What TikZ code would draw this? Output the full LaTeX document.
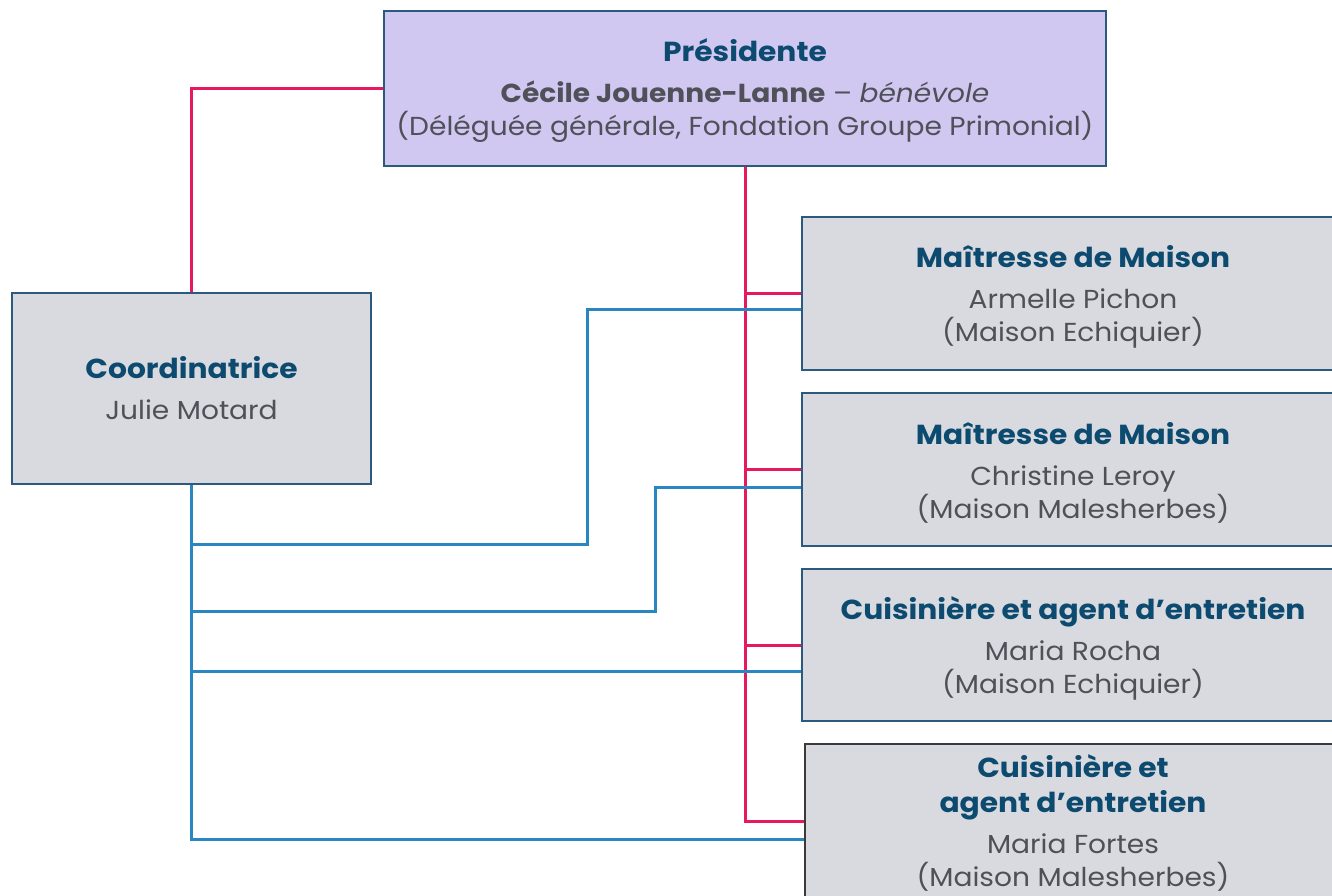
\documentclass[tikz,border=0pt]{standalone}
\usepackage{fontspec}
\setmainfont{Poppins}[FakeStretch=1.08]
\definecolor{lav}{HTML}{D0C8F1}
\definecolor{boxgrey}{HTML}{D9DADF}
\definecolor{edge}{HTML}{2B5A7E}
\definecolor{edgedark}{HTML}{3A3A3A}
\definecolor{ttl}{HTML}{0D4A6F}
\definecolor{bodytxt}{HTML}{505059}
\definecolor{pinkline}{HTML}{E8185C}
\definecolor{blueline}{HTML}{2A86C0}
\pgfdeclarelayer{background}
\pgfsetlayers{background,main}
\tikzset{
  orgbox/.style={draw=edge, line width=1.2pt, fill=boxgrey, inner sep=0pt},
  boxtext/.style={inner sep=0pt, align=center, text=bodytxt, font=\fontsize{26}{33}\selectfont},
  preslink/.style={draw=pinkline, line width=3pt},
  coordlink/.style={draw=blueline, line width=3pt},
}
\newcommand{\ttlline}[1]{{\color{ttl}\bfseries\fontsize{27.5}{33}\selectfont #1}}
\begin{document}
\begin{tikzpicture}[x=1pt,y=-1pt]
\useasboundingbox (0,0) rectangle (1332,895);
% boxes
\node[orgbox, fill=lav, minimum width=722pt, minimum height=155pt] (pres) at (745,88.5) {};
\node[orgbox, minimum width=359pt, minimum height=191pt] (coord) at (191.5,388.5) {};
\node[orgbox, minimum width=542pt, minimum height=153pt] (b1) at (1073,293.5) {};
\node[orgbox, minimum width=542pt, minimum height=153pt] (b2) at (1073,469.5) {};
\node[orgbox, minimum width=542pt, minimum height=152pt] (b3) at (1073,645) {};
\node[orgbox, draw=edgedark, minimum width=536pt, minimum height=154pt] (b4) at (1073,821) {};
% texts
\node[boxtext] (pres-t) at ([yshift=-2.5pt]pres.center) {\ttlline{Présidente}\\[8pt]
  {\bfseries Cécile Jouenne-Lanne} – \textit{bénévole}\\
  (Déléguée générale, Fondation Groupe Primonial)};
\node[boxtext] (coord-t) at (coord.center) {\ttlline{Coordinatrice}\\[8pt] Julie Motard};
\node[boxtext] (b1-t) at ([yshift=-3pt]b1.center) {\ttlline{Maîtresse de Maison}\\[8pt] Armelle Pichon\\ (Maison Echiquier)};
\node[boxtext] (b2-t) at ([yshift=-3pt]b2.center) {\ttlline{Maîtresse de Maison}\\[8pt] Christine Leroy\\ (Maison Malesherbes)};
\node[boxtext] (b3-t) at ([yshift=-3pt]b3.center) {\ttlline{Cuisinière et agent d’entretien}\\[8pt] Maria Rocha\\ (Maison Echiquier)};
\node[boxtext] (b4-t) at ([yshift=-1.5pt]b4.center) {\ttlline{Cuisinière et}\\[2pt] \ttlline{agent d’entretien}\\[8pt] Maria Fortes\\ (Maison Malesherbes)};
% connection points
\coordinate (c1) at (802,309);
\coordinate (c2) at (802,487);
\coordinate (c3) at (802,671);
\coordinate (c4) at (805,839);
\coordinate (k1) at (587,544);
\coordinate (k2) at (655,611);
\begin{pgfonlayer}{background}
% pink lines
\draw[preslink] (pres.west) -| (coord.north);
\draw[preslink] (pres.south) |- (b4.west);
\draw[preslink] (pres.south |- b1.west) -- (b1.west);
\draw[preslink] (pres.south |- b2.west) -- (b2.west);
\draw[preslink] (pres.south |- b3.west) -- (b3.west);
% blue lines
\draw[coordlink] (coord.south) |- (c4);
\draw[coordlink] (coord.south |- k1) -- (k1) |- (c1);
\draw[coordlink] (coord.south |- k2) -- (k2) |- (c2);
\draw[coordlink] (coord.south |- c3) -- (c3);
\end{pgfonlayer}
\end{tikzpicture}
\end{document}
